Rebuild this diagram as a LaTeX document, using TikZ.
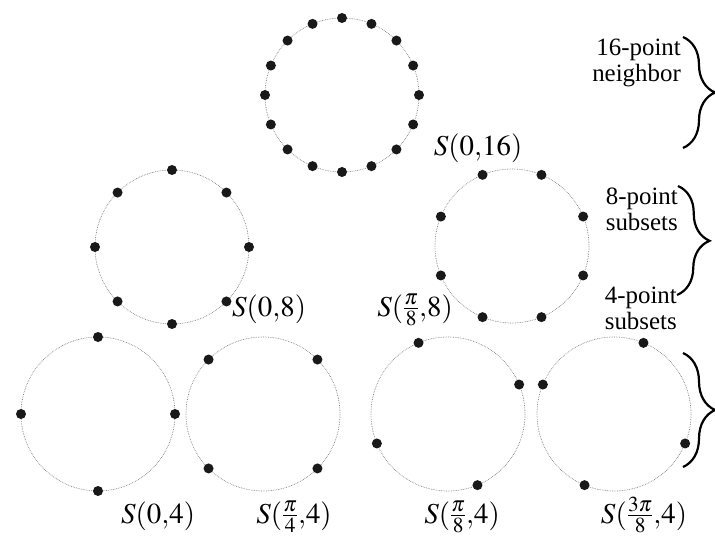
\documentclass[tikz,border=0pt]{standalone}
\usepackage{mathptmx}
\usepackage[no-math]{fontspec}
\setmainfont{Liberation Serif}
\usetikzlibrary{decorations.pathreplacing}

\begin{document}
\begin{tikzpicture}[x=1bp, y=-1bp,
    ring/.style={gray, densely dotted, line width=0.7bp},
    dotpt/.style={fill=black!90},
    lbl/.style={font=\fontsize{29}{32}\selectfont, inner sep=0pt, anchor=base},
    side/.style={font=\fontsize{25}{26}\selectfont, align=right, inner sep=0pt},
    curly/.style={decorate, decoration={brace, amplitude=32bp}, line width=2.2bp}
]
    \useasboundingbox (0,0) rectangle (715,537);

    % rings and their sample points
    \foreach \cx/\cy/\n/\off in {342/95/16/90, 172/247/8/90, 512/246/8/22.5,
                                 98/414/4/90, 263/414/4/45, 448/414/4/22.5, 614/414/4/67.5}{
        \draw[ring] (\cx,\cy) circle[radius=77];
        \foreach \k in {1,...,\n}
            \fill[dotpt] ({\cx+77*cos(\off+360/\n*\k)},{\cy-77*sin(\off+360/\n*\k)}) circle[radius=5];
    }

    % Labels
    \node[lbl] (s016) at (478,156) {$S(0{,}16)$};
    \node[lbl] (s08) at (269,316) {$S(0{,}8)$};
    \node[lbl] (s18) at (415,316) {$S(\frac{\pi}{8}{,}8)$};
    \node[lbl] (s04) at (158,523) {$S(0{,}4)$};
    \node[lbl] (s14) at (294,523) {$S(\frac{\pi}{4}{,}4)$};
    \node[lbl] (s24) at (462,523) {$S(\frac{\pi}{8}{,}4)$};
    \node[lbl] (s34) at (644,523) {$S(\frac{3\pi}{8}{,}4)$};

    % Side texts
    \node[side, anchor=east] (t16) at (681,63) {16-point\\neighbor};
    \node[side, anchor=east] (t8) at (678,209) {8-point\\subsets};
    \node[side, anchor=east] (t4) at (677,308) {4-point\\subsets};

    % Braces
    \coordinate (b1a) at (683,37);  \coordinate (b1b) at (683,148);
    \coordinate (b2a) at (678,186); \coordinate (b2b) at (677,295);
    \coordinate (b3a) at (683,353); \coordinate (b3b) at (683,467);
    \draw[curly] (b1a) -- (b1b);
    \draw[curly] (b2a) -- (b2b);
    \draw[curly] (b3a) -- (b3b);
\end{tikzpicture}
\end{document}
